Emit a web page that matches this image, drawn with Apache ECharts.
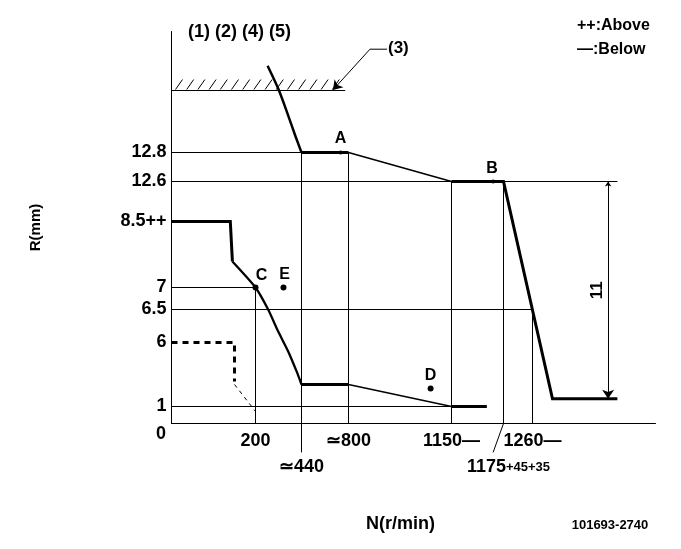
<!DOCTYPE html>
<html><head><meta charset="utf-8">
<script src="https://cdn.jsdelivr.net/npm/echarts@6/dist/echarts.min.js"></script>
<style>html,body{margin:0;padding:0;background:#fff}#c{width:681px;height:549px}</style>
</head><body><div id="c"></div>
<script>
// ---------- chart values (N in r/min, R in mm) ----------
const fullCurveRpm = [263, 320, 372, 409, 440];
const fullCurveR   = [14.42, 14.02, 13.5, 13.11, 12.8];
const fullFlatRpm  = [440, 800];
const fullFlatR    = [12.8, 12.8];
const fullSlopeRpm = [800, 1150];
const fullSlopeR   = [12.8, 12.6];
const govRpm       = [1150, 1175, 1300, 1363];
const govR         = [12.6, 12.6, 1.6, 1.6];

const idleTopRpm   = [0, 140, 145];
const idleTopR     = [8.5, 8.5, 7.59];
const idleCurveRpm = [145, 200, 266, 318, 370, 414, 440];
const idleCurveR   = [7.59, 7.0, 6.5, 6.17, 5.32, 3.76, 2.72];
const idleFlatRpm  = [440, 800];
const idleFlatR    = [2.72, 2.72];
const idleSlopeRpm = [800, 1150];
const idleSlopeR   = [2.72, 1.0];
const idleEndRpm   = [1150, 1167];
const idleEndR     = [1.0, 1.0];

const belowRpm     = [0, 150, 150];
const belowR       = [6, 6, 2.95];
const belowTailRpm = [150, 200];
const belowTailR   = [2.72, 0.71];

const pointNames = ['A', 'B', 'C', 'D', 'E'];
const pointRpm   = [739, 1170, 200, 1079, 346];
const pointR     = [12.8, 12.6, 7.0, 2.41, 7.0];

const guideHR    = [12.8, 12.6, 7, 6.5, 1, 14];
const guideHTo   = [800, 1363, 200, 1260, 1150, 775];
const guideVRpm  = [200, 440, 800, 1150, 1175, 1260];
const guideVFrom = [0, -1.7, 0, 0, 0, 0];
const guideVTo   = [7, 12.8, 12.8, 12.6, 12.6, 6.5];
const leader1175Rpm = [1175, 1170];
const leader1175R   = [0, -1.7];

const stopperR = 14;
const stopperRpm = [0, 775];
const callout3Rpm = [931, 873, 681];
const callout3R   = [14.70, 14.70, 14.01];

const dimRpm = 1354;
const dimR = [12.6, 1.6];
const dimLabel = '11';

const yTickR      = [12.8, 12.6, 8.5, 7, 6.5, 6, 1];
const yTickLabels = ['12.8', '12.6', '8.5++', '7', '6.5', '6', '1'];
const xTickRpm    = [200, 800, 1150, 1260];
const xTickLabels = ['200', '≃800', '1150—', '1260—'];
const xTick2Rpm   = [440, 1175];
const xTick2Labels = ['≃440', '{p|}1175{s|+45+35}'];

// ---------- schematic (not-to-scale) axis scales ----------
const X_KNOTS = [[0,0],[200,84],[440,130],[800,177],[1150,280],[1175,332],[1260,361],[1300,381],[1400,484]];
const Y_KNOTS = [[0,0],[1,17],[6,81],[6.5,114],[7,136],[8.5,202],[12.6,242],[12.8,271],[14,333],[15,392]];
function interp(k, v){
  let i = 0;
  if (v <= k[0][0]) i = 0;
  else if (v >= k[k.length-1][0]) i = k.length-2;
  else { while (v > k[i+1][0]) i++; }
  const a = k[i], b = k[i+1];
  return a[1] + (v - a[0]) * (b[1] - a[1]) / (b[0] - a[0]);
}
const sx = v => interp(X_KNOTS, v);
const sy = v => interp(Y_KNOTS, v);
const pts = (xs, ys) => xs.map((x, i) => [sx(x), sy(ys[i])]);

const FONT = 'Liberation Sans';
const BLACK = '#000';

function path(xs, ys, width, extra){
  return Object.assign({
    type: 'line', data: pts(xs, ys), symbol: 'none', showSymbol: false,
    silent: true, animation: false, clip: false, z: 3,
    lineStyle: {color: BLACK, width: width, cap: 'butt', join: 'miter'}
  }, extra || {});
}

const series = [];
// guide lines
guideHR.forEach((r, i) => series.push(path([0, guideHTo[i]], [r, r], 1, {z: 1})));
guideVRpm.forEach((n, i) => series.push(path([n, n], [guideVFrom[i], guideVTo[i]], 1, {z: 1})));
series.push(path(leader1175Rpm, leader1175R, 1, {z: 1}));

// stopper hatch
series.push({
  type: 'custom', silent: true, animation: false, z: 1, clip: false,
  data: [[sx(stopperRpm[0]), sx(stopperRpm[1]), sy(stopperR)]],
  renderItem(params, api){
    const p0 = api.coord([api.value(0), api.value(2)]);
    const p1 = api.coord([api.value(1), api.value(2)]);
    const ch = [];
    for (let x = p0[0] + 4; x <= p1[0] - 5; x += 11.2) {
      ch.push({type: 'line', shape: {x1: x, y1: p0[1] - 1, x2: x + 7, y2: p0[1] - 11},
               style: {stroke: BLACK, lineWidth: 1}});
    }
    return {type: 'group', children: ch};
  }
});
// callout (3)
series.push(path(callout3Rpm.slice(0, 2), callout3R.slice(0, 2), 1, {z: 1}));
series.push({
  type: 'lines', coordinateSystem: 'cartesian2d', silent: true, animation: false, z: 2,
  symbol: ['none', 'arrow'], symbolSize: [5, 9],
  lineStyle: {color: BLACK, width: 1, opacity: 1},
  data: [{coords: pts(callout3Rpm.slice(1), callout3R.slice(1))}]
});

// characteristic curves
series.push(path(fullCurveRpm, fullCurveR, 2.5, {smooth: 0.3}));
series.push(path(fullFlatRpm, fullFlatR, 3));
series.push(path(fullSlopeRpm, fullSlopeR, 1.6));
series.push(path(govRpm, govR, 3));
series.push(path(idleTopRpm, idleTopR, 3));
series.push(path(idleCurveRpm, idleCurveR, 2.3, {smooth: 0.2}));
series.push(path(idleFlatRpm, idleFlatR, 3));
series.push(path(idleSlopeRpm, idleSlopeR, 1.6));
series.push(path(idleEndRpm, idleEndR, 3));
series.push(path(belowRpm, belowR, 3, {lineStyle: {color: BLACK, width: 3, type: [6, 5]}}));
series.push(path(belowTailRpm, belowTailR, 1, {lineStyle: {color: BLACK, width: 1, type: [4, 4]}}));

// dimension arrow "11"
series.push({
  type: 'lines', coordinateSystem: 'cartesian2d', silent: true, animation: false, z: 2,
  symbol: ['arrow', 'arrow'], symbolSize: [5, 9],
  lineStyle: {color: BLACK, width: 1, opacity: 1},
  data: [{coords: pts([dimRpm, dimRpm], dimR)}]
});
series.push({
  type: 'scatter', silent: true, animation: false, symbol: 'circle', symbolSize: 1, z: 6,
  itemStyle: {opacity: 1, color: 'rgba(255,255,255,0)'},
  data: [[sx(dimRpm), (sy(dimR[0]) + sy(dimR[1])) / 2]],
  label: {show: true, formatter: dimLabel, rotate: 90, position: 'left', distance: 10,
          align: 'center', verticalAlign: 'middle',
          color: BLACK, fontFamily: FONT, fontWeight: 'bold', fontSize: 17}
});

// measuring points
const labelOffsets = {A: [0, 1], B: [-1, 2], C: [6, 4], D: [0, 3], E: [1, 3]};
series.push({
  type: 'scatter', silent: true, animation: false, z: 5,
  data: pointNames.map((n, i) => ({
    name: n, value: [sx(pointRpm[i]), sy(pointR[i])],
    symbolSize: (n === 'A' || n === 'B') ? 4 : 6,
    label: {offset: labelOffsets[n]}
  })),
  itemStyle: {color: BLACK, opacity: 1},
  label: {show: true, position: 'top', formatter: p => p.name, color: BLACK,
          fontFamily: FONT, fontWeight: 'bold', fontSize: 16}
});

const findLabel = (vals, labels, f) => v => {
  const i = vals.findIndex(t => Math.abs(f(t) - v) < 0.01);
  return i < 0 ? '' : labels[i];
};

const option = {
  backgroundColor: '#fff',
  animation: false,
  grid: {left: 171.5, top: 31.5, width: 484, height: 392, containLabel: false},
  xAxis: [{
    type: 'value', min: 0, max: 484,
    name: 'N(r/min)', nameLocation: 'middle', nameGap: 92,
    nameTextStyle: {color: BLACK, fontFamily: FONT, fontWeight: 'bold', fontSize: 18, padding: [0, 26, 0, 0]},
    axisLine: {show: true, lineStyle: {color: BLACK, width: 1}},
    axisTick: {show: false}, splitLine: {show: false},
    axisLabel: {
      customValues: xTickRpm.map(sx), margin: 9, color: BLACK,
      fontFamily: FONT, fontWeight: 'bold', fontSize: 18,
      formatter: findLabel(xTickRpm, xTickLabels, sx)
    }
  }, {
    type: 'value', min: 0, max: 484, position: 'bottom',
    axisLine: {show: false}, axisTick: {show: false}, splitLine: {show: false},
    axisLabel: {
      customValues: xTick2Rpm.map(sx), margin: 35, color: BLACK,
      fontFamily: FONT, fontWeight: 'bold', fontSize: 18,
      formatter: findLabel(xTick2Rpm, xTick2Labels, sx),
      rich: {
        s: {fontFamily: FONT, fontWeight: 'bold', fontSize: 13, color: BLACK},
        p: {width: 10}
      }
    }
  }],
  yAxis: {
    type: 'value', min: 0, max: 392,
    name: 'R(mm)', nameLocation: 'middle', nameGap: 128,
    nameTextStyle: {color: BLACK, fontFamily: FONT, fontWeight: 'bold', fontSize: 15},
    axisLine: {show: true, lineStyle: {color: BLACK, width: 1}},
    axisTick: {show: false}, splitLine: {show: false},
    axisLabel: {
      customValues: yTickR.map(sy), margin: 5, color: BLACK,
      fontFamily: FONT, fontWeight: 'bold', fontSize: 18,
      formatter: findLabel(yTickR, yTickLabels, sy)
    }
  },
  graphic: [
    {type: 'text', x: 188, y: 32, style: {text: '(1) (2) (4) (5)', font: 'bold 18px ' + FONT, fill: BLACK, textVerticalAlign: 'middle'}},
    {type: 'text', x: 388, y: 48, style: {text: '(3)', font: 'bold 17px ' + FONT, fill: BLACK, textVerticalAlign: 'middle'}},
    {type: 'text', x: 577, y: 26, style: {text: '++:Above', font: 'bold 16px ' + FONT, fill: BLACK, textVerticalAlign: 'middle'}},
    {type: 'text', x: 577, y: 50, style: {text: '—:Below', font: 'bold 16px ' + FONT, fill: BLACK, textVerticalAlign: 'middle'}},
    {type: 'text', x: 161, y: 434, style: {text: '0', font: 'bold 18px ' + FONT, fill: BLACK, textAlign: 'center', textVerticalAlign: 'middle'}},
    {type: 'text', x: 610, y: 525, style: {text: '101693-2740', font: 'bold 13px ' + FONT, fill: BLACK, textAlign: 'center', textVerticalAlign: 'middle'}}
  ],
  series: series
};
const chart = echarts.init(document.getElementById('c'), null, {renderer: 'canvas'});
chart.setOption(option);
</script></body></html>
